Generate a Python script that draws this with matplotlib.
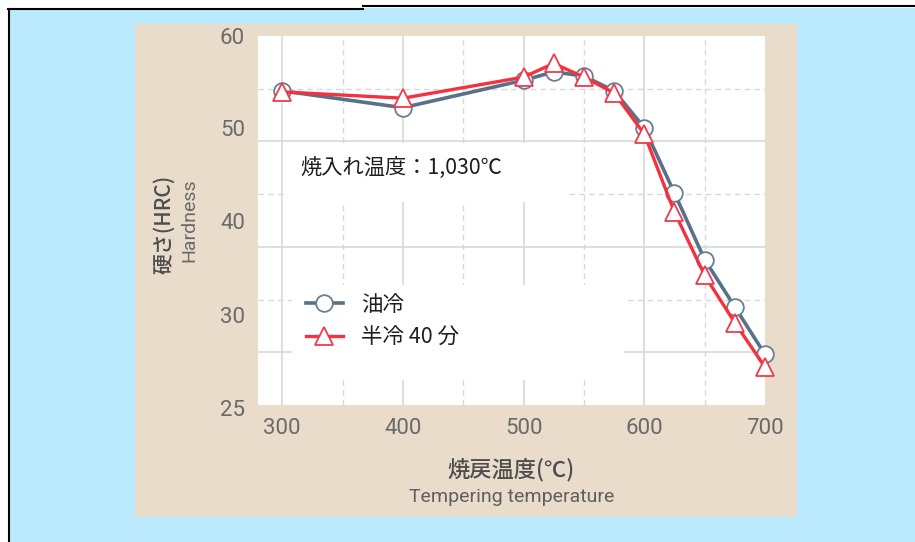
import matplotlib
matplotlib.use("Agg")
import matplotlib.pyplot as plt
from matplotlib.patches import Rectangle
from matplotlib.lines import Line2D

plt.rcParams['font.family'] = ['Noto Sans CJK JP', 'DejaVu Sans']

# ----- data -----
temps = [300, 400, 500, 525, 550, 575, 600, 625, 650, 675, 700]
oil_cool = [54.8, 53.2, 55.8, 56.6, 56.2, 54.8, 51.3, 45.1, 38.8, 34.3, 29.8]
half_cool_40 = [54.7, 54.1, 56.1, 57.4, 56.1, 54.6, 50.7, 43.3, 37.3, 32.8, 28.6]
series_labels = ["油冷", "半冷 40 分"]

x_ticks = [300, 400, 500, 600, 700]
y_tick_labels = ["60", "50", "40", "30", "25"]
# the printed labels sit slightly off the grid in the original
y_tick_pos = [59.8, 51.0, 42.2, 33.3, 24.5]

W, H = 915, 542
fig = plt.figure(figsize=(W / 100, H / 100), dpi=100)
fig.patch.set_facecolor("white")

def px(x, y):
    return x / W, 1 - y / H

# light blue page + black frame
fig.add_artist(Rectangle(px(9, H), (W - 9) / W, (H - 8) / H, transform=fig.transFigure,
                         facecolor="#BBE9FE", edgecolor="none", zorder=0))
for xs, ys in [((8, 363), (9, 9)), ((363, W), (6, 6)), ((9, 9), (9, H))]:
    fig.add_artist(Line2D([xs[0] / W, xs[1] / W], [1 - ys[0] / H, 1 - ys[1] / H],
                          transform=fig.transFigure, color="black", lw=1.5, zorder=1))

# beige panel
fig.add_artist(Rectangle(px(135, 517), (797 - 135) / W, (517 - 24) / H, transform=fig.transFigure,
                         facecolor="#EADCCB", edgecolor="none", zorder=0.5))

ax = fig.add_axes([258 / W, 1 - 405 / H, (765 - 258) / W, 369 / H])
ax.set_zorder(3)
ax.set_facecolor("white")
ax.set_xlim(280, 700)
ax.set_ylim(25, 60)
for s in ax.spines.values():
    s.set_visible(False)
ax.tick_params(length=0)
ax.set_yticks([])
ax.set_xticks(x_ticks)
ax.set_xticklabels([str(t) for t in x_ticks], fontsize=16, color="#6a6a6a",
                   family=["Roboto", "DejaVu Sans"])
ax.tick_params(axis="x", pad=9)

# grid
for xv in [300, 400, 500, 600]:
    ax.axvline(xv, color="#d8d8d8", lw=1.2, zorder=1)
for xv in [350, 450, 550, 650]:
    ax.axvline(xv, color="#d8d8d8", lw=1.0, ls=(0, (4, 3)), zorder=1)
for yv in [30, 40, 50]:
    ax.axhline(yv, color="#d8d8d8", lw=1.2, zorder=1)
for yv in [35, 45, 55]:
    ax.axhline(yv, color="#d8d8d8", lw=1.0, ls=(0, (4, 3)), zorder=1)

# y tick labels
for pos, lab in zip(y_tick_pos, y_tick_labels):
    ax.text(-0.026, pos, lab, transform=ax.get_yaxis_transform(), ha="right", va="center",
            fontsize=16, color="#6a6a6a", family=["Roboto", "DejaVu Sans"], clip_on=False)

# white boxes behind annotation and legend
ax.add_patch(Rectangle((0.059, 0.550), 0.554, 0.160, transform=ax.transAxes,
                       facecolor="white", edgecolor="none", zorder=2))
ax.add_patch(Rectangle((0.067, 0.068), 0.655, 0.257, transform=ax.transAxes,
                       facecolor="white", edgecolor="none", zorder=2))

ax.plot(temps, oil_cool, color="#587189", lw=2.6, marker="o", ms=12,
        mfc="white", mec="#677e95", mew=1.3, label=series_labels[0], zorder=3, clip_on=False)
ax.plot(temps, half_cool_40, color="#F4323F", lw=2.4, marker="^", ms=13.5,
        mfc="white", mec="#F03A4A", mew=1.3, label=series_labels[1], zorder=4, clip_on=False)

ax.text(0.083, 0.642, "焼入れ温度：1,030℃", transform=ax.transAxes, ha="left", va="center",
        fontsize=15.3, color="#1e1e1e", zorder=5)

leg = ax.legend(loc="upper left", bbox_to_anchor=(0.095, 0.302), frameon=False,
                fontsize=15.5, handlelength=1.7, handletextpad=0.85, labelspacing=0.5,
                borderpad=0, borderaxespad=0)
for t in leg.get_texts():
    t.set_color("#1e1e1e")

# axis titles
fig.text(511 / W, 1 - 470 / H, "焼戻温度(℃)", ha="center", va="center", fontsize=16,
         color="#4d4d4d", fontweight="medium")
fig.text(512 / W, 1 - 497 / H, "Tempering temperature", ha="center", va="center",
         fontsize=14, color="#5e5e5e", family=["Roboto", "DejaVu Sans"])
fig.text(164 / W, 1 - 224 / H, "硬さ(HRC)", ha="center", va="center", rotation=90,
         fontsize=15, color="#4d4d4d", fontweight="medium")
fig.text(189 / W, 1 - 220 / H, "Hardness", ha="center", va="center", rotation=90,
         fontsize=14, color="#6a6a6a", family=["Roboto", "DejaVu Sans"])

fig.savefig("out.png", dpi=100, facecolor=fig.get_facecolor())
